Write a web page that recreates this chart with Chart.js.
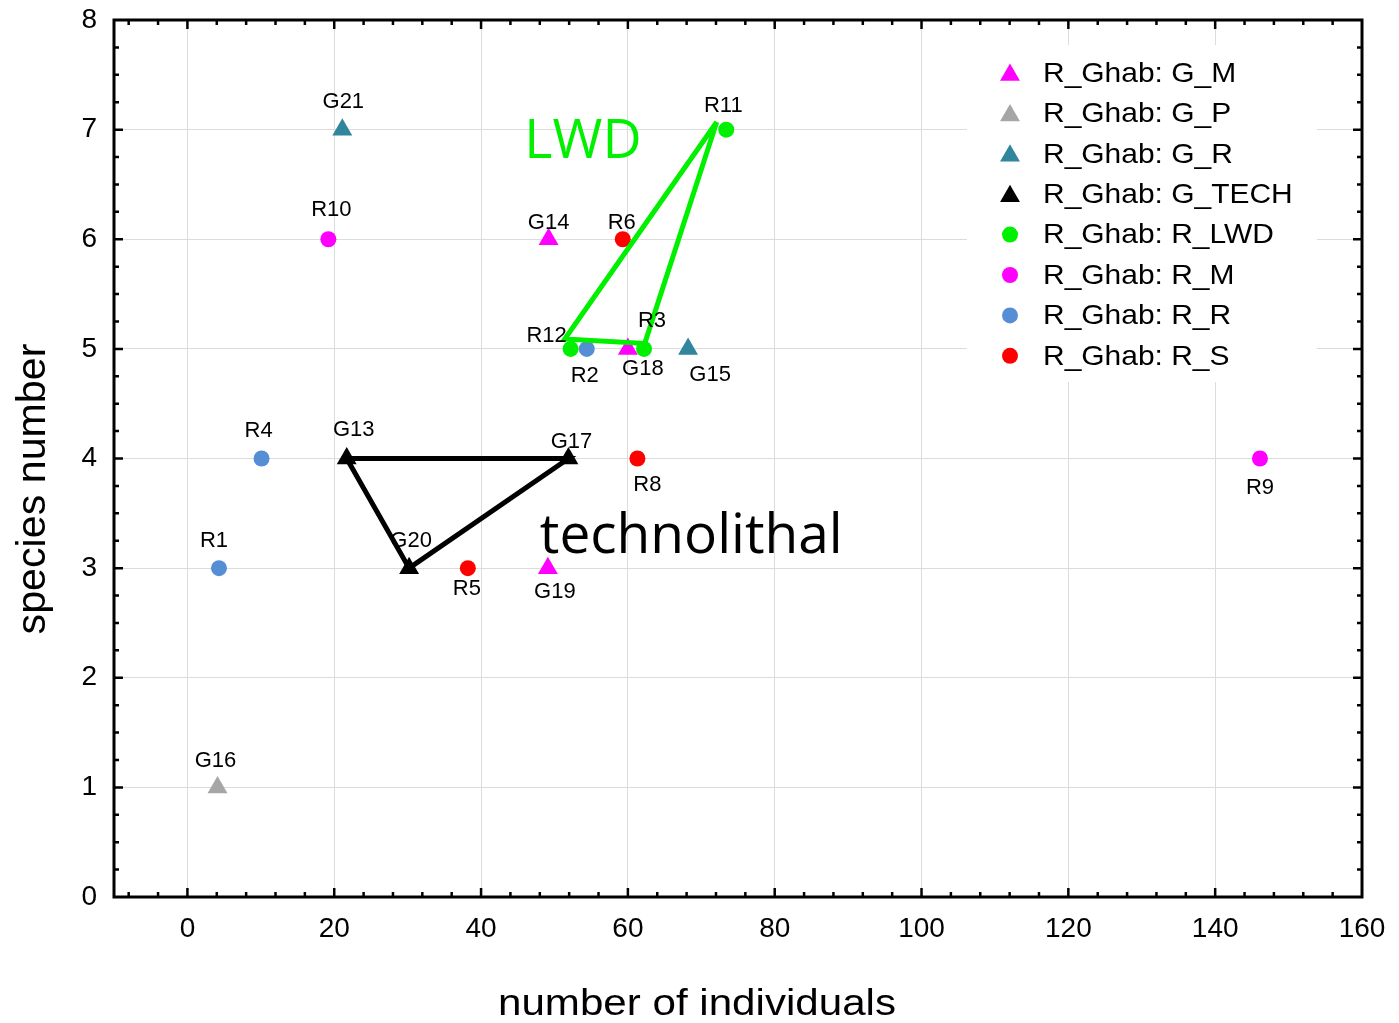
<!DOCTYPE html>
<html><head><meta charset="utf-8">
<script src="https://cdn.jsdelivr.net/npm/chart.js@4.4.0/dist/chart.umd.min.js"></script>
<style>html,body{margin:0;padding:0;background:#fff;}canvas{display:block;}</style>
</head><body>
<canvas id="c" width="1399" height="1023"></canvas>
<script>
// ---------------- data ----------------
const seriesNames = ['R_Ghab: G_M','R_Ghab: G_P','R_Ghab: G_R','R_Ghab: G_TECH','R_Ghab: R_LWD','R_Ghab: R_M','R_Ghab: R_R','R_Ghab: R_S'];
const G_M    = [[49.2,6],[60.0,5],[49.1,3]];
const G_M_labels = ['G14','G18','G19'];
const G_P    = [[4.1,1]];
const G_P_labels = ['G16'];
const G_R    = [[21.1,7],[68.2,5]];
const G_R_labels = ['G21','G15'];
const G_TECH = [[21.7,4],[51.9,4],[30.2,3]];
const G_TECH_labels = ['G13','G17','G20'];
const R_LWD  = [[73.4,7],[52.2,5],[62.2,5]];
const R_LWD_labels = ['R11','R12','R3'];
const R_M    = [[19.2,6],[146.1,4]];
const R_M_labels = ['R10','R9'];
const R_R    = [[10.1,4],[4.3,3],[54.4,5]];
const R_R_labels = ['R4','R1','R2'];
const R_S    = [[59.3,6],[61.3,4],[38.2,3]];
const R_S_labels = ['R6','R8','R5'];
const lwdOutline = [[72.1,7.07],[51.4,5.09],[62.3,5.05],[72.1,7.07]];
const xTickValues = [0,20,40,60,80,100,120,140,160];
const yTickValues = [0,1,2,3,4,5,6,7,8];
const xTitle = 'number of individuals';
const yTitle = 'species number';
const notes = [{text:'LWD', at:[45.9,6.74]},{text:'technolithal', at:[48.0,3.14]}];

// ---------------- styles ----------------
const seriesData   = [G_M,G_P,G_R,G_TECH,R_LWD,R_M,R_R,R_S];
const seriesLabels = [G_M_labels,G_P_labels,G_R_labels,G_TECH_labels,R_LWD_labels,R_M_labels,R_R_labels,R_S_labels];
const seriesColors = ['#ff00ff','#a6a6a6','#31859c','#000000','#00f000','#ff00ff','#558ed5','#ff0000'];
const seriesShapes = ['triangle','triangle','triangle','triangle','circle','circle','circle','circle'];
const noteStyles = [{color:'#00f000', font:'54px "Open Sans"'},{color:'#000000', font:'55px "Open Sans"'}];
const labelOffsets = {
  G14:[0,-16],G18:[15,20],G19:[7,24],G16:[-2,-26],G21:[1,-28],G15:[22,26],
  G13:[7,-29],G17:[3,-17],G20:[2,-27],R11:[-3,-24],R12:[-24,-13],R3:[8,-28],
  R10:[3,-29],R9:[0,29],R4:[-3,-28],R1:[-5,-27],R2:[-2,27],R6:[-1,-16],R8:[10,26],R5:[-1,21]
};
const toXY = a => a.map(p => ({x:p[0], y:p[1]}));

const datasets = [];
datasets.push({label:'_lwd', data:toXY(lwdOutline), showLine:true, borderColor:'#00f000', borderWidth:5,
  pointRadius:0, fill:false, tension:0, borderJoinStyle:'miter'});
datasets.push({label:'_tech', data:toXY([...G_TECH, G_TECH[0]]), showLine:true, borderColor:'#000000', borderWidth:5,
  pointRadius:0, fill:false, tension:0, borderJoinStyle:'miter'});
seriesNames.forEach((n,i)=>{
  datasets.push({label:n, data:toXY(seriesData[i]), pointLabels:seriesLabels[i],
    pointStyle:seriesShapes[i], pointRadius: seriesShapes[i]==='triangle'?11.5:8,
    pointHoverRadius: seriesShapes[i]==='triangle'?11.5:8,
    backgroundColor:seriesColors[i], borderColor:seriesColors[i], pointBorderWidth:0, showLine:false});
});

function drawMarker(ctx, shape, color, x, y, r){
  ctx.save(); ctx.fillStyle=color; ctx.beginPath();
  if(shape==='triangle'){
    ctx.moveTo(x, y - r); ctx.lineTo(x + r*Math.sin(2*Math.PI/3), y + r/2); ctx.lineTo(x - r*Math.sin(2*Math.PI/3), y + r/2);
    ctx.closePath();
  } else { ctx.arc(x,y,r,0,Math.PI*2); }
  ctx.fill(); ctx.restore();
}

const decor = {
  id:'decor',
  beforeDatasetsDraw(chart){
    const ctx=chart.ctx, a=chart.chartArea;
    ctx.save(); ctx.fillStyle='#fff';
    ctx.fillRect(a.right-395, a.top+25, 350, 337);
    ctx.restore();
  },
  afterDatasetsDraw(chart){
    const ctx=chart.ctx;
    ctx.save();
    ctx.font='22px "Liberation Sans", Arial, sans-serif'; ctx.fillStyle='#000';
    ctx.textAlign='center'; ctx.textBaseline='middle';
    chart.data.datasets.forEach((ds,di)=>{
      if(!ds.pointLabels) return;
      const meta=chart.getDatasetMeta(di);
      meta.data.forEach((el,j)=>{
        const t=ds.pointLabels[j]; const o=labelOffsets[t]||[0,-20];
        ctx.fillText(t, el.x+o[0], el.y+o[1]);
      });
    });
    const xs=chart.scales.x, ys=chart.scales.y;
    notes.forEach((n,i)=>{
      ctx.font=noteStyles[i].font; ctx.fillStyle=noteStyles[i].color;
      ctx.textAlign='left'; ctx.textBaseline='alphabetic';
      ctx.fillText(n.text, xs.getPixelForValue(n.at[0]), ys.getPixelForValue(n.at[1]));
    });
    ctx.restore();
  },
  afterDraw(chart){
    const ctx=chart.ctx, a=chart.chartArea, xs=chart.scales.x, ys=chart.scales.y;
    ctx.save();
    ctx.strokeStyle='#000'; ctx.lineWidth=2.5;
    ctx.beginPath();
    for(let v=-8; v<160; v+=4){
      const px=xs.getPixelForValue(v); const L=(v%20===0)?9:5;
      ctx.moveTo(px,a.bottom); ctx.lineTo(px,a.bottom-L);
      ctx.moveTo(px,a.top); ctx.lineTo(px,a.top+L);
    }
    for(let k=1; k<32; k++){
      const v=k/4; const py=ys.getPixelForValue(v); const L=(k%4===0)?9:5;
      ctx.moveTo(a.left,py); ctx.lineTo(a.left+L,py);
      ctx.moveTo(a.right,py); ctx.lineTo(a.right-L,py);
    }
    ctx.stroke();
    ctx.lineWidth=3; ctx.strokeRect(a.left,a.top,a.right-a.left,a.bottom-a.top);
    ctx.fillStyle='#000';
    ctx.textAlign='center'; ctx.textBaseline='alphabetic';
    ctx.font='36px "Liberation Sans", Arial, sans-serif';
    ctx.save(); ctx.translate(697, 1015); ctx.scale(1.17,1); ctx.fillText(xTitle,0,0); ctx.restore();
    ctx.font='40px "Liberation Sans", Arial, sans-serif';
    ctx.save(); ctx.translate(45, 489); ctx.rotate(-Math.PI/2); ctx.scale(1.03,1); ctx.fillText(yTitle,0,0); ctx.restore();
    const lx=a.right-352, ly=a.top+53, step=40.4;
    ctx.font='28px "Liberation Sans", Arial, sans-serif'; ctx.textAlign='left'; ctx.textBaseline='middle';
    seriesNames.forEach((n,i)=>{
      const y=ly+i*step;
      if(seriesShapes[i]==='triangle') drawMarker(ctx,'triangle',seriesColors[i],lx,y+2,11.5);
      else drawMarker(ctx,'circle',seriesColors[i],lx,y,8);
      ctx.save(); ctx.translate(lx+33,y+1); ctx.scale(1.07,1); ctx.fillStyle='#000'; ctx.fillText(n,0,0); ctx.restore();
    });
    ctx.restore();
  }
};

new Chart(document.getElementById('c'), {
  type:'scatter',
  data:{datasets},
  options:{
    responsive:false, animation:false, devicePixelRatio:1,
    layout:{padding:{top:20,right:37,left:0,bottom:0}},
    plugins:{legend:{display:false}, tooltip:{enabled:false}},
    scales:{
      x:{type:'linear', min:-10, max:160,
        afterBuildTicks: s => { s.ticks = xTickValues.map(v=>({value:v})); },
        afterFit: s => { s.height = 126; s.paddingLeft = 0; s.paddingRight = 0; },
        grid:{color:'#dcdcdc', lineWidth:1, drawTicks:false},
        border:{display:false},
        ticks:{padding:15, color:'#000', font:{family:'"Liberation Sans", Arial, sans-serif', size:28}, maxRotation:0, autoSkip:false}
      },
      y:{type:'linear', min:0, max:8,
        afterBuildTicks: s => { s.ticks = yTickValues.map(v=>({value:v})); },
        afterFit: s => { s.width = 114; s.paddingTop = 0; s.paddingBottom = 0; },
        grid:{color:'#dcdcdc', lineWidth:1, drawTicks:false},
        border:{display:false},
        ticks:{padding:17, color:'#000', font:{family:'"Liberation Sans", Arial, sans-serif', size:28}, autoSkip:false}
      }
    }
  },
  plugins:[decor]
});
</script>
</body></html>
